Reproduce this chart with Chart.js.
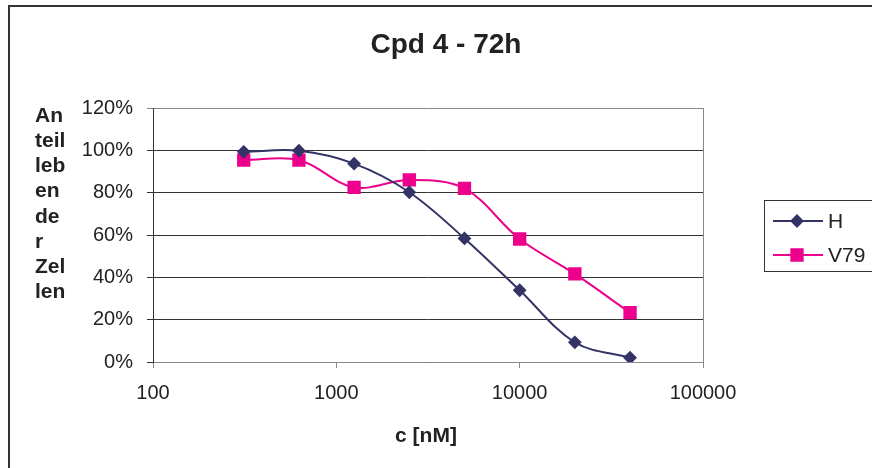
<!DOCTYPE html>
<html lang="de">
<head>
<meta charset="UTF-8">
<title>Cpd 4 - 72h</title>
<script src="https://cdn.jsdelivr.net/npm/chart.js"></script>
<style>
    html, body { margin: 0; padding: 0; background: #fff; }
    .wrap { width: 872px; height: 468px; position: relative; }
</style>
</head>
<body>
<div class="wrap"><canvas id="chart"></canvas></div>
<script>
const concentrations = [312.5, 625, 1250, 2500, 5000, 10000, 20000, 40000];
const hValues = [99.3, 99.8, 93.7, 80.2, 58.4, 33.9, 9.3, 2.0];
const v79Values = [95.4, 95.4, 82.5, 86.0, 82.0, 58.1, 41.6, 23.3];
const xTickValues = [100, 1000, 10000, 100000];
const yTickValues = [0, 20, 40, 60, 80, 100, 120];
const seriesNames = ['H', 'V79'];
const chartTitle = 'Cpd 4 - 72h';
const xTitle = 'c [nM]';
const yTitleLines = ['An', 'teil', 'leb', 'en', 'de', 'r', 'Zel', 'len'];

const FONT = "'Liberation Sans', Arial, sans-serif";
const TXT = '#222';
const H_COLOR = '#333366';
const V_COLOR = '#ec008c';

const toPoints = (ys) => concentrations.map((c, i) => ({ x: c, y: ys[i] }));

// title, vertical y title, x title, legend box and frame
const decor = {
    id: 'decor',
    afterDraw(chart) {
        const ctx = chart.ctx;
        const a = chart.chartArea;
        ctx.save();

        // plot right edge
        ctx.strokeStyle = '#888';
        ctx.lineWidth = 1;
        ctx.beginPath();
        ctx.moveTo(Math.round(a.right) + 0.5, a.top);
        ctx.lineTo(Math.round(a.right) + 0.5, a.bottom);
        ctx.stroke();

        ctx.fillStyle = TXT;
        ctx.font = 'bold 28px ' + FONT;
        ctx.textAlign = 'center';
        ctx.textBaseline = 'middle';
        ctx.fillText(chartTitle, 446, 45);

        ctx.font = 'bold 21px ' + FONT;
        ctx.fillText(xTitle, 426, 436);

        ctx.textAlign = 'left';
        yTitleLines.forEach((t, i) => ctx.fillText(t, 35, 116 + i * 25.2));

        // legend
        ctx.strokeStyle = '#333';
        ctx.lineWidth = 1;
        ctx.strokeRect(764.5, 200.5, 120, 71);
        ctx.font = '21px ' + FONT;
        const items = [
            { name: seriesNames[0], color: H_COLOR, style: 'rectRot', r: 5.5, y: 221 },
            { name: seriesNames[1], color: V_COLOR, style: 'rect', r: 8, y: 255 }
        ];
        items.forEach(it => {
            ctx.strokeStyle = it.color;
            ctx.lineWidth = 2;
            ctx.beginPath();
            ctx.moveTo(773, it.y);
            ctx.lineTo(823, it.y);
            ctx.stroke();
            ctx.fillStyle = it.color;
            Chart.helpers.drawPoint(ctx, { pointStyle: it.style, radius: it.r, borderWidth: 1 }, 797, it.y);
            ctx.fillStyle = TXT;
            ctx.fillText(it.name, 828, it.y + 1);
        });

        // outer frame
        ctx.strokeStyle = '#333';
        ctx.lineWidth = 2;
        ctx.strokeRect(9, 6, 900, 500);
        ctx.restore();
    }
};

new Chart(document.getElementById('chart'), {
    type: 'line',
    data: {
        datasets: [
            {
                label: seriesNames[0],
                data: toPoints(hValues),
                borderColor: H_COLOR,
                backgroundColor: H_COLOR,
                borderWidth: 2,
                pointStyle: 'rectRot',
                pointRadius: 5.5,
                pointHoverRadius: 5.5,
                tension: 0.35,
                fill: false
            },
            {
                label: seriesNames[1],
                data: toPoints(v79Values),
                borderColor: V_COLOR,
                backgroundColor: V_COLOR,
                borderWidth: 2,
                pointStyle: 'rect',
                pointRadius: 8,
                pointHoverRadius: 8,
                tension: 0.35,
                fill: false
            }
        ]
    },
    options: {
        responsive: true,
        maintainAspectRatio: false,
        animation: false,
        devicePixelRatio: 1,
        layout: { padding: { top: 108, right: 169, left: 0, bottom: 0 } },
        plugins: {
            legend: { display: false },
            title: { display: false },
            tooltip: { enabled: false }
        },
        scales: {
            x: {
                type: 'logarithmic',
                min: 100,
                max: 100000,
                afterBuildTicks: (s) => { s.ticks = xTickValues.map(v => ({ value: v })); },
                afterFit: (s) => { s.height = 106; },
                ticks: {
                    color: TXT,
                    font: { family: FONT, size: 20 },
                    padding: 13,
                    maxRotation: 0,
                    autoSkip: false,
                    callback: (v) => String(v)
                },
                grid: { drawOnChartArea: false, drawTicks: true, tickLength: 6, color: '#888' },
                border: { color: '#888', width: 1 }
            },
            y: {
                min: 0,
                max: 120,
                afterBuildTicks: (s) => { s.ticks = yTickValues.map(v => ({ value: v })); },
                afterFit: (s) => { s.width = 153; },
                ticks: {
                    color: TXT,
                    font: { family: FONT, size: 20 },
                    padding: 14,
                    callback: (v) => v + '%'
                },
                grid: {
                    color: (c) => (c.tick && c.tick.value === 120 ? '#888' : '#333'),
                    tickLength: 6
                },
                border: { color: '#333', width: 1 }
            }
        }
    },
    plugins: [decor]
});
</script>
</body>
</html>
